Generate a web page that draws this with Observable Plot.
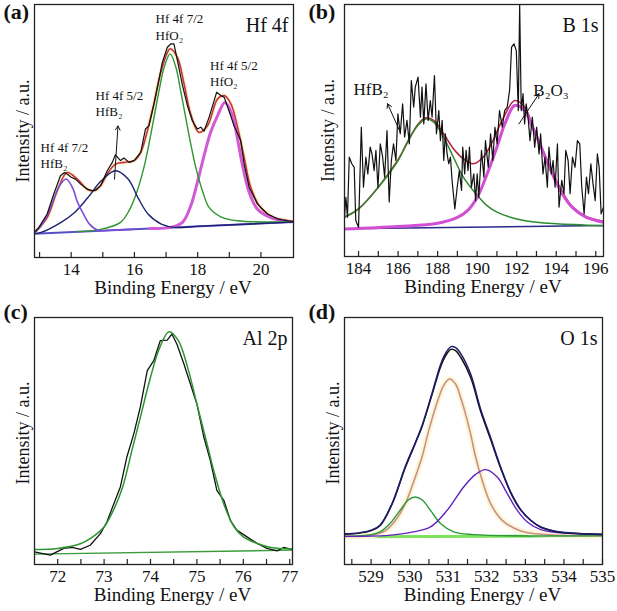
<!DOCTYPE html>
<html><head><meta charset="utf-8">
<script src="https://cdn.jsdelivr.net/npm/d3@7"></script>
<script src="https://cdn.jsdelivr.net/npm/@observablehq/plot@0.6"></script>
<style>
body{margin:0;background:#fff}
#fig{position:relative;width:617px;height:611px;font-family:"Liberation Serif",serif;background:#fff}
#fig svg{position:absolute;overflow:visible}
</style></head><body><div id="fig"></div>
<script>
// ---------- Panel (a): Hf 4f ----------
const aE_exp = [12.84,12.98,13.24,13.45,13.66,13.79,13.87,14.00,14.14,14.30,14.51,14.67,14.77,14.93,15.14,15.30,15.40,15.56,15.67,15.83,15.99,16.20,16.35,16.46,16.62,16.78,16.88,17.04,17.15,17.25,17.36,17.52,17.67,17.83,17.99,18.10,18.20,18.36,18.52,18.60,18.73,18.84,18.99,19.15,19.36,19.47,19.63,19.89,20.21,20.53,21.03];
const aI_exp = [9.9,11.9,17.2,25.1,32.3,33.6,33.0,31.7,31.0,29.0,27.0,26.4,26.6,28.4,34.3,37.6,40.6,38.3,39.3,37.6,38.3,41.6,50.8,52.1,60.7,70.6,77.0,83.1,84.4,84.4,77.8,68.0,60.3,54.1,50.8,51.5,49.9,55.4,62.0,65.3,64.0,63.3,58.0,52.1,46.2,36.9,27.7,21.1,17.2,15.2,14.2];
const aE_env = [12.84,13.24,13.56,13.87,14.19,14.51,14.72,14.93,15.14,15.40,15.67,15.99,16.20,16.41,16.62,16.83,17.04,17.13,17.36,17.57,17.78,18.04,18.31,18.63,18.84,19.05,19.26,19.47,19.68,19.99,20.42,21.03];
const aI_env = [9.9,15.8,26.4,33.6,31.0,27.0,26.4,28.4,33.0,36.9,37.6,38.3,41.6,50.1,61.0,73.0,81.0,82.5,79.0,68.6,56.7,49.5,52.1,62.7,64.0,60.7,51.5,39.6,27.7,19.8,15.8,14.3];
const aE_hfb72 = [12.84,13.05,13.26,13.47,13.63,13.84,14.05,14.19,14.37,14.58,14.84,15.25,15.99];
const aI_hfb72 = [9.6,12.5,17.2,23.7,28.4,31.0,27.4,22.2,17.6,13.2,10.8,10.8,11.2];
const aE_hfb52 = [12.84,13.05,13.68,14.11,14.53,14.95,15.40,15.80,16.11,16.43,16.85,17.27,18.10,21.03];
const aI_hfb52 = [9.4,9.9,13.9,17.8,23.7,30.3,34.3,31.0,23.7,17.2,13.2,11.9,12.4,14.0];
const aE_hfo72 = [14.19,14.93,15.56,15.83,16.09,16.30,16.46,16.62,16.78,16.94,17.13,17.31,17.46,17.62,17.78,17.94,18.15,18.36,18.73,19.26,21.03];
const aI_hfo72 = [10.2,11.1,13.9,18.5,26.4,35.6,44.9,55.4,66.0,75.2,80.5,75.2,66.0,55.4,44.9,35.6,26.4,19.8,16.1,14.5,14.1];
const aE_hfo52 = [16.50,17.15,17.52,17.78,17.99,18.20,18.41,18.63,18.86,19.10,19.26,19.42,19.63,19.89,20.31,20.95];
const aI_hfo52 = [11.5,11.9,13.9,20.4,29.7,40.2,49.5,56.1,61.3,56.1,46.8,36.3,25.7,19.1,15.8,14.1];
const aE_bg = [12.84,21.03];
const aI_bg = [9.4,14.0];
const aTicks = [13,14,15,16,17,18,19,20];
const aLabels = [14,16,18,20];
const aNotes = [
  {x:13.03,y:43.5,t:"Hf 4f 7/2"},{x:13.03,y:37.2,t:"HfB₂"},
  {x:14.77,y:64.0,t:"Hf 4f 5/2"},{x:14.77,y:57.4,t:"HfB₂"},
  {x:16.67,y:94.3,t:"Hf 4f 7/2"},{x:16.67,y:87.7,t:"HfO₂"},
  {x:18.39,y:75.6,t:"Hf 4f 5/2"},{x:18.39,y:69.3,t:"HfO₂"}];
const aArrows = [{x1:15.37,y1:31.0,x2:15.48,y2:52.0}];

// ---------- Panel (b): B 1s ----------
const bE_exp = [183.29,183.36,183.44,183.53,183.66,183.78,183.86,184.00,184.14,184.25,
184.37,184.47,184.59,184.68,184.79,184.88,184.98,185.10,185.22,185.32,
185.44,185.55,185.66,185.77,185.89,185.99,186.11,186.23,186.33,186.45,
186.57,186.67,186.79,186.87,187.01,187.13,187.21,187.30,187.41,187.52,
187.63,187.72,187.84,187.94,188.06,188.14,188.23,188.31,188.39,188.48,
188.56,188.65,188.73,188.87,188.99,189.10,189.21,189.27,189.37,189.44,
189.54,189.61,189.71,189.83,189.92,190.00,190.08,190.22,190.34,190.42,
190.56,190.68,190.79,190.90,191.01,191.13,191.27,191.39,191.52,191.64,
191.74,191.86,191.98,192.08,192.15,192.23,192.32,192.40,192.48,192.59,
192.67,192.79,192.91,193.01,193.13,193.21,193.33,193.43,193.55,193.63,
193.75,193.84,193.94,194.06,194.14,194.28,194.39,194.48,194.60,194.70,
194.82,194.95,195.07,195.19,195.29,195.41,195.53,195.63,195.75,195.86,
195.97,196.08,196.17,196.27,196.39];
const bI_exp = [15.6,23.5,15.6,39.4,36.8,35.4,14.3,11.6,51.3,27.5,
39.4,32.8,43.4,40.7,34.1,42.1,27.5,44.7,39.4,31.5,
50.0,21.6,38.1,44.7,38.1,56.6,48.7,60.6,47.4,54.0,
44.7,69.8,59.3,67.2,71.2,55.3,67.2,52.6,68.5,54.0,
61.9,55.3,71.8,48.7,57.9,46.0,54.0,38.1,48.7,40.7,
36.8,39.4,30.2,18.9,27.5,34.1,26.2,43.4,32.8,42.1,
34.1,43.4,27.5,32.8,22.2,32.8,23.5,42.1,31.5,46.0,
35.4,48.7,38.1,51.3,44.7,57.9,51.3,57.9,59.3,65.9,
83.1,84.4,81.7,57.9,100,57.9,64.6,52.6,60.6,54.0,
46.0,55.3,43.4,51.3,40.7,48.7,32.8,39.4,27.5,43.4,
32.8,38.1,27.5,44.7,19.6,30.2,24.9,42.1,38.1,24.9,
39.4,35.4,46.0,44.7,27.5,16.9,31.5,24.9,36.8,28.8,
22.2,40.7,35.4,16.9,19.6];
const bE_env = [183.29,184.0,185.0,186.0,187.0,187.4,187.8,188.3,188.8,189.3,189.8,190.3,190.8,191.3,191.9,192.4,192.8,193.3,193.8,194.3,194.8,195.5,196.39];
const bI_env = [15.6,18.9,27.5,38.4,52.4,55.0,54.0,48.7,42.8,38.8,36.8,39.4,46.0,54.6,61.9,59.3,52.0,42.7,33.5,25.7,19.9,15.9,14.0];
const bE_hfb2 = [183.29,184.0,185.0,186.0,186.5,187.0,187.4,187.8,188.3,188.8,189.3,190.0,190.5,191.0,192.0,193.0,194.0,196.39];
const bI_hfb2 = [15.6,18.9,27.5,38.1,46.0,52.0,54.6,53.3,47.4,39.4,31.5,24.3,20.2,17.6,14.9,13.6,13.0,12.2];
const bE_b2o3 = [183.29,186.0,188.0,189.0,189.5,190.0,190.5,191.0,191.4,191.9,192.4,192.8,193.3,193.8,194.3,194.8,195.5,196.39];
const bI_b2o3 = [10.9,11.9,13.2,15.5,18.1,23.4,32.7,43.4,52.6,59.9,57.9,51.3,42.1,32.8,24.9,19.6,15.6,13.6];
const bE_bg = [183.29,196.39];
const bI_bg = [11.0,12.3];
const bTicks = [184,185,186,187,188,189,190,191,192,193,194,195,196];
const bLabels = [184,186,188,190,192,194,196];
const bNotes = [{x:183.75,y:66.1,t:"HfB₂"},{x:192.84,y:65.9,t:"B₂O₃"}];
const bArrows = [{x1:186.11,y1:49.3,x2:185.47,y2:60.6},{x1:192.11,y1:52.6,x2:193.13,y2:64.6}];

// ---------- Panel (c): Al 2p ----------
const cE_exp = [71.50,71.84,72.13,72.31,72.49,72.70,72.92,73.06,73.21,73.35,73.49,73.64,73.78,73.93,74.07,74.21,74.36,74.46,74.57,74.72,74.86,75.00,75.15,75.29,75.43,75.58,75.72,75.86,76.08,76.30,76.51,76.73,76.87,77.06];
const cI_exp = [5.1,3.8,6.5,6.9,6.1,7.8,12.5,17.2,24.6,31.4,43.5,52.9,63.7,78.5,82.5,90.6,90.8,93.3,89.2,81.2,73.1,65.0,51.5,42.1,30.0,26.0,17.9,13.9,11.2,8.5,6.5,5.5,6.9,6.1];
const cE_fit = [71.5,72.0,72.5,72.8,73.0,73.2,73.4,73.6,73.8,74.0,74.2,74.4,74.6,74.8,75.0,75.2,75.4,75.6,75.8,76.0,76.3,76.6,77.06];
const cI_fit = [6.1,6.5,8.5,11.8,15.2,21.9,31.4,46.2,61.0,75.8,87.9,94.2,90.6,79.8,65.0,50.2,35.5,23.4,15.3,11.2,8.5,6.9,6.3];
const cE_bg = [71.5,77.06];
const cI_bg = [4.2,5.8];
const cTicks = [72,72.5,73,73.5,74,74.5,75,75.5,76,76.5,77];
const cLabels = [72,73,74,75,76,77];

// ---------- Panel (d): O 1s ----------
const dE_env = [528.31,528.67,529.00,529.23,529.54,529.88,530.14,530.32,530.58,530.80,530.93,531.07,531.19,531.32,531.58,531.84,532.10,532.36,532.62,532.88,533.14,533.40,533.74,534.18,535.00];
const dI_env = [12.4,12.8,13.9,15.9,24.6,39.4,49.1,56.2,69.3,80.9,85.5,88.2,87.8,85.5,77.1,62.9,51.3,39.4,29.3,22.2,17.9,15.2,13.6,12.8,12.2];
const dI_exp = [12.2,12.6,13.7,15.7,24.3,39.0,48.8,55.8,68.8,80.0,84.5,87.1,86.6,84.0,75.8,62.0,50.6,39.0,29.0,22.0,17.8,15.1,13.5,12.7,12.1];
const dE_main = [528.31,529.00,529.36,529.62,529.88,530.10,530.32,530.49,530.75,530.88,531.03,531.19,531.32,531.56,531.71,531.88,532.10,532.40,532.88,533.53,535.00];
const dI_main = [11.4,11.8,13.6,17.6,24.4,33.4,43.5,54.0,67.4,72.4,75.1,73.1,67.7,54.2,43.5,34.1,24.6,17.9,13.6,12.1,11.7];
const dE_high = [528.31,529.45,530.10,530.54,530.97,531.40,531.71,531.97,532.27,532.53,532.79,533.05,533.40,533.83,535.00];
const dI_high = [11.4,11.8,13.2,15.2,21.9,31.4,36.5,38.4,35.4,28.7,21.9,17.2,14.1,12.9,12.1];
const dE_low = [528.31,529.00,529.23,529.49,529.75,529.97,530.14,530.32,530.54,530.80,531.14,531.66,535.00];
const dI_low = [11.4,12.1,13.2,16.6,21.9,26.2,27.3,26.2,21.9,16.6,13.2,12.1,11.6];
const dE_bg = [528.31,535.0];
const dI_bg = [11.2,11.6];
const dTicks = [528.5,529,529.5,530,530.5,531,531.5,532,532.5,533,533.5,534,534.5,535];
const dLabels = [529,530,531,532,533,534,535];

// ---------- helpers ----------
const pts = (E, I) => E.map((e, i) => ({x: e, y: I[i]}));
const FONT = '"Liberation Serif","Times New Roman",serif';

function panel(o) {
  const innerH = o.height - o.mt - o.mb;
  const marks = [];
  for (const s of o.series) {
    if (s.halo) marks.push(Plot.line(pts(s.E, s.I), {x: "x", y: "y", stroke: s.halo, strokeWidth: s.haloWidth, curve: s.curve || "linear", clip: true}));
    marks.push(Plot.line(pts(s.E, s.I), {x: "x", y: "y", stroke: s.color, strokeWidth: s.width, curve: s.curve || "linear", clip: true}));
  }
  marks.push(Plot.frame({stroke: "#222", strokeWidth: 1.3}));
  marks.push(Plot.tickX(o.ticks, {x: d => d, insetTop: innerH - 5, stroke: "#222", strokeWidth: 1.2}));
  marks.push(Plot.axisX(o.labels, {anchor: "bottom", tickSize: 0, tickPadding: 5, fontSize: 17, label: null, fill: "#111"}));
  marks.push(Plot.text(["Binding Energy / eV"], {frameAnchor: "bottom", dx: 9, dy: 30, textAnchor: "middle", lineAnchor: "middle", fontSize: 19, fill: "#111"}));
  marks.push(Plot.text(["Intensity / a.u."], {frameAnchor: "left", rotate: -90, dx: o.ylx - o.ml, dy: o.yly || 0, textAnchor: "middle", lineAnchor: "middle", fontSize: 18, fill: "#111"}));
  marks.push(Plot.text([o.name], {frameAnchor: "top-right", dx: -5, dy: 21, textAnchor: "end", lineAnchor: "middle", fontSize: 20, fill: "#111"}));
  marks.push(Plot.text([o.letter], {frameAnchor: "top-left", dx: 3 - o.ml, dy: 2.4 - o.mt, textAnchor: "start", lineAnchor: "top", fontSize: 22, fontWeight: "bold", fill: "#111"}));
  if (o.notes) marks.push(Plot.text(o.notes, {x: "x", y: "y", text: "t", textAnchor: "start", lineAnchor: "middle", fontSize: o.noteSize, fill: "#111"}));
  if (o.arrows) marks.push(Plot.arrow(o.arrows, {x1: "x1", y1: "y1", x2: "x2", y2: "y2", stroke: "#111", strokeWidth: 1, headLength: 7}));
  const svg = Plot.plot({
    width: o.width, height: o.height,
    marginLeft: o.ml, marginRight: o.mr, marginTop: o.mt, marginBottom: o.mb,
    x: {domain: o.domain, axis: null},
    y: {domain: [0, 100], axis: null},
    style: {fontFamily: FONT, fontSize: "18px", color: "#111", background: "transparent", overflow: "visible"},
    marks
  });
  svg.style.left = o.left + "px";
  svg.style.top = o.top + "px";
  document.getElementById("fig").appendChild(svg);
}

panel({
  left: 0, top: 0, width: 305, height: 300, ml: 34, mr: 12, mt: 4, mb: 43,
  domain: [12.84, 21.03], ticks: aTicks, labels: aLabels, name: "Hf 4f", letter: "(a)", ylx: 23,
  notes: aNotes, noteSize: 13, arrows: aArrows,
  series: [
    {E: aE_bg, I: aI_bg, color: "#5b4fc9", width: 2},
    {E: aE_env, I: aI_env, color: "#c92f48", width: 1.6, curve: "catmull-rom", halo: "#f8f4c6", haloWidth: 4},
    {E: aE_hfo52, I: aI_hfo52, color: "#d35ad6", width: 3, curve: "catmull-rom"},
    {E: aE_hfo72, I: aI_hfo72, color: "#2f9630", width: 1.4, curve: "catmull-rom"},
    {E: aE_hfb52, I: aI_hfb52, color: "#1e2272", width: 1.4, curve: "catmull-rom"},
    {E: aE_hfb72, I: aI_hfb72, color: "#7c4fd8", width: 1.6, curve: "catmull-rom"},
    {E: aE_exp, I: aI_exp, color: "#111", width: 1.2}
  ]
});

panel({
  left: 305, top: 0, width: 312, height: 300, ml: 39, mr: 14, mt: 4, mb: 44,
  domain: [183.29, 196.39], ticks: bTicks, labels: bLabels, name: "B 1s", letter: "(b)", ylx: 23,
  notes: bNotes, noteSize: 17, arrows: bArrows,
  series: [
    {E: bE_bg, I: bI_bg, color: "#2a2a8c", width: 1.6},
    {E: bE_env, I: bI_env, color: "#b3233f", width: 1.6, curve: "catmull-rom"},
    {E: bE_hfb2, I: bI_hfb2, color: "#2e8a2e", width: 1.5, curve: "catmull-rom"},
    {E: bE_b2o3, I: bI_b2o3, color: "#d24fd4", width: 3, curve: "catmull-rom"},
    {E: bE_exp, I: bI_exp, color: "#111", width: 1.2}
  ]
});

panel({
  left: 0, top: 300, width: 305, height: 311, ml: 34, mr: 13, mt: 17, mb: 47,
  domain: [71.5, 77.06], ticks: cTicks, labels: cLabels, name: "Al 2p", letter: "(c)", ylx: 23, yly: -8,
  series: [
    {E: cE_bg, I: cI_bg, color: "#3a9d3a", width: 1.3},
    {E: cE_exp, I: cI_exp, color: "#111", width: 1.3},
    {E: cE_fit, I: cI_fit, color: "#2d9632", width: 1.5, curve: "catmull-rom"}
  ]
});

panel({
  left: 305, top: 300, width: 312, height: 311, ml: 39, mr: 15, mt: 17, mb: 47,
  domain: [528.31, 535.0], ticks: dTicks, labels: dLabels, name: "O 1s", letter: "(d)", ylx: 28, yly: -8,
  series: [
    {E: dE_bg, I: dI_bg, color: "#7ee05c", width: 3},
    {E: dE_main, I: dI_main, color: "#c8908c", width: 1.6, curve: "catmull-rom", halo: "#fcf6d4", haloWidth: 6},
    {E: dE_low, I: dI_low, color: "#2a9a3a", width: 1.4, curve: "catmull-rom"},
    {E: dE_high, I: dI_high, color: "#6022c0", width: 1.4, curve: "catmull-rom"},
    {E: dE_env, I: dI_exp, color: "#111", width: 1.5, curve: "catmull-rom"},
    {E: dE_env, I: dI_env, color: "#1c1c6e", width: 1.5, curve: "catmull-rom"}
  ]
});
</script>
</body></html>
